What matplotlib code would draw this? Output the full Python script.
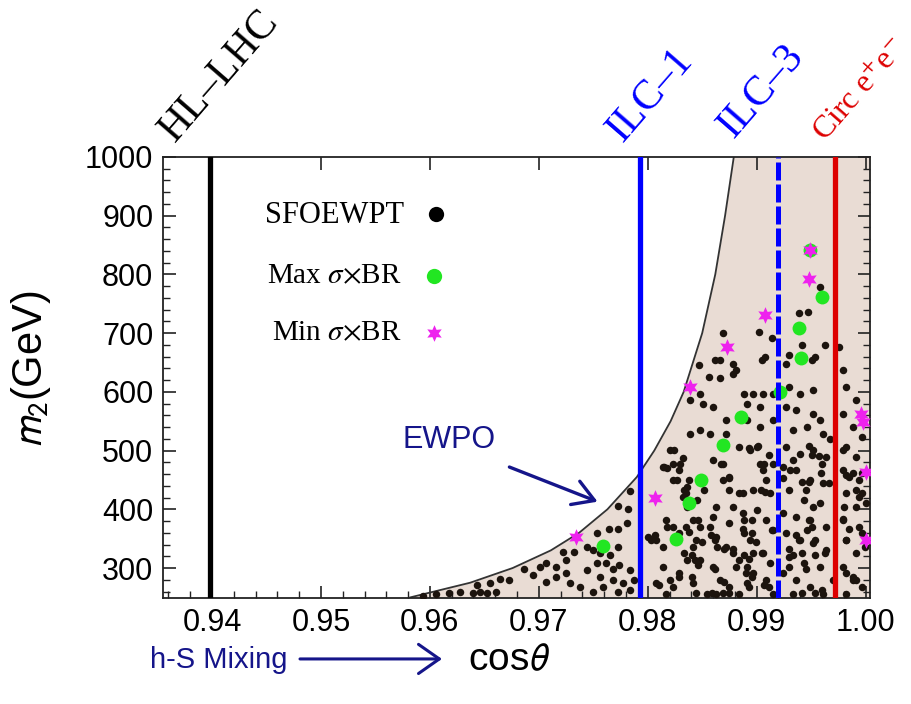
import matplotlib
matplotlib.use('Agg')
import matplotlib.pyplot as plt
import numpy as np

plt.rcParams['font.family'] = ['Liberation Sans', 'DejaVu Sans']
plt.rcParams['mathtext.fontset'] = 'stix'

# EWPO bound: allowed region lies right of this curve
curve_m2 = [250, 275, 300, 330, 360, 400, 455, 500, 550, 600, 700, 800, 900, 1000]
curve_cos = [0.9582, 0.9637, 0.9676, 0.9711, 0.9737, 0.9763, 0.9790,
             0.9806, 0.9821, 0.9833, 0.9850, 0.9862, 0.9871, 0.9879]

# SFOEWPT scan points
sfo_cos = [
    # left of ILC-1
    0.9784, 0.9773, 0.9782, 0.9781, 0.9773, 0.9764, 0.9753, 0.9773, 0.9765, 0.9756,
    0.9750, 0.9744, 0.9732, 0.9722, 0.9725, 0.9716, 0.9707, 0.9701, 0.9695, 0.9686,
    0.9664, 0.9673, 0.9655, 0.9643, 0.9646, 0.9652, 0.9661, 0.9640, 0.9628, 0.9618,
    0.9606, 0.9594, 0.9707, 0.9716, 0.9729, 0.9738, 0.9725, 0.9744, 0.9753, 0.9762,
    0.9768, 0.9774, 0.9784, 0.9756, 0.9768, 0.9777, 0.9759, 0.9750, 0.9784, 0.9773, 0.9787,
    # lower right
    0.9824, 0.9832, 0.9830, 0.9815, 0.9818, 0.9827, 0.9838, 0.9852, 0.9833, 0.9835,
    0.9867, 0.9875, 0.9875, 0.9887, 0.9893, 0.9901, 0.9911, 0.9907, 0.9904, 0.9908,
    0.9933, 0.9931, 0.9942, 0.9948, 0.9945, 0.9948, 0.9951, 0.9957, 0.9960, 0.9959,
    0.9966, 0.9979, 0.9982, 0.9985, 0.9994, 1.0000, 0.9980, 0.9800, 0.9803, 0.9807,
    0.9818, 0.9835, 0.9838, 0.9846, 0.9844, 0.9850, 0.9858, 0.9862, 0.9864, 0.9870,
    0.9878, 0.9887, 0.9896, 0.9887, 0.9896, 0.9899, 0.9905, 0.9888, 0.9893, 0.9881,
    0.9890, 0.9896, 0.9833, 0.9841, 0.9843, 0.9846, 0.9862, 0.9841, 0.9829, 0.9810,
    0.9870, 0.9844, 0.9859, 0.9869, 0.9875, 0.9914, 0.9930, 0.9936, 0.9939, 0.9942,
    0.9933, 0.9930, 0.9945, 0.9954, 0.9963, 0.9948, 0.9951, 0.9954, 0.9979, 0.9985,
    0.9997, 0.9999, 0.9982, 0.9988, 0.9991, 0.9924, 0.9907, 0.9911, 0.9893, 0.9982,
    0.9970, 0.9960, 0.9942, 0.9954, 0.9991, 0.9997,
    # lower right, second pass (ILC-1 to ILC-3)
    0.9808, 0.9814, 0.9808, 0.9817, 0.9823, 0.9829, 0.9836, 0.9832, 0.9836, 0.9845,
    0.9842, 0.9848, 0.9857, 0.9863, 0.9875, 0.9888, 0.9869, 0.9875, 0.9884, 0.9897,
    0.9860, 0.9869, 0.9884, 0.9894, 0.9900, 0.9820, 0.9823, 0.9814, 0.9848, 0.9860,
    0.9872, 0.9878, 0.9884, 0.9891, 0.9866, 0.9875, 0.9891, 0.9897, 0.9906, 0.9912,
    0.9909, 0.9915, 0.9842, 0.9836, 0.9829, 0.9823, 0.9842, 0.9854, 0.9863, 0.9884,
    0.9814, 0.9820, 0.9909, 0.9912, 0.9915, 0.9903, 0.9906, 0.9863, 0.9878, 0.9900,
    0.9909, 0.9915, 0.9888, 0.9860, 0.9894, 0.9897, 0.9817, 0.9823, 0.9829,
    # lower right, second pass (right of ILC-3)
    0.9927, 0.9940, 0.9952, 0.9964, 0.9924, 0.9936, 0.9949, 0.9961, 0.9930, 0.9943,
    0.9958, 0.9924, 0.9936, 0.9949, 0.9964, 0.9927, 0.9940, 0.9952, 0.9964, 0.9930,
    0.9943, 0.9958, 0.9924, 0.9936, 0.9949, 0.9961, 0.9933, 0.9946, 0.9952,
    0.9982, 0.9991, 0.9979, 0.9994, 0.9982, 0.9991, 0.9979, 0.9994, 0.9982, 0.9991,
    0.9979, 0.9988, 0.9997, 0.9982, 0.9997, 0.9988,
    # middle right
    0.9839, 0.9848, 0.9857, 0.9872, 0.9903, 0.9906, 0.9915, 0.9897, 0.9888, 0.9891,
    0.9903, 0.9872, 0.9860, 0.9848, 0.9851, 0.9839, 0.9915, 0.9891, 0.9930, 0.9940,
    0.9952, 0.9927, 0.9936, 0.9952, 0.9958, 0.9933, 0.9946, 0.9961, 0.9967, 0.9982,
    0.9991, 0.9979, 0.9988, 0.9997,
    # upper right
    0.9869, 0.9902, 0.9914, 0.9939, 0.9947, 0.9942, 0.9954, 0.9951, 0.9963, 0.9976,
    0.9847, 0.9862, 0.9866, 0.9878, 0.9881, 0.9856, 0.9866, 0.9878, 0.9905, 0.9908,
    0.9927, 0.9930, 0.9979, 0.9958,
]
sfo_m2 = [
    432, 405, 400, 377, 367, 367, 359, 335, 322, 325,
    331, 336, 328, 328, 313, 302, 308, 302, 288, 298,
    282, 279, 274, 271, 260, 257, 260, 257, 260, 257,
    256, 252, 277, 285, 274, 268, 291, 296, 308, 308,
    299, 305, 296, 285, 279, 274, 268, 260, 262, 260, 279,
    501, 487, 478, 472, 470, 450, 450, 433, 433, 427,
    478, 453, 433, 427, 504, 507, 492, 478, 433, 430,
    484, 467, 447, 447, 433, 507, 492, 490, 478, 461,
    444, 501, 458, 455, 421, 410, 404, 353, 348, 356,
    370, 370, 362, 382, 348, 345, 356, 348, 336, 333,
    333, 393, 382, 367, 359, 345, 325, 322, 316, 302,
    291, 285, 325, 322, 313, 305, 299, 285, 285, 271,
    277, 257, 257, 257, 257, 364, 333, 356, 348, 325,
    322, 302, 299, 322, 325, 382, 370, 348, 384, 367,
    359, 336, 291, 285, 279, 453, 271, 268, 268, 348,
    279, 262, 257, 257, 433, 461,
    347, 336, 274, 256, 450, 467, 438, 421, 404, 416,
    381, 370, 370, 353, 376, 381, 450, 455, 427, 433,
    484, 478, 506, 501, 506, 501, 478, 472, 313, 302,
    336, 325, 313, 302, 279, 268, 274, 291, 325, 308,
    279, 256, 336, 313, 291, 268, 274, 256, 256, 256,
    302, 279, 450, 427, 478, 478, 467, 404, 404, 398,
    381, 364, 359, 387, 347, 325, 381, 370, 359,
    506, 495, 501, 489, 472, 467, 450, 444, 433, 416,
    410, 393, 387, 381, 370, 359, 347, 342, 330, 319,
    308, 302, 291, 279, 268, 256, 256, 364, 404,
    506, 489, 467, 450, 427, 404, 381, 370, 347, 325,
    302, 279, 268, 256, 427, 461,
    529, 535, 529, 529, 540, 597, 597, 597, 597, 580,
    575, 552, 575, 597, 580, 586, 552, 552, 609, 597,
    603, 575, 569, 563, 552, 535, 540, 529, 520, 609,
    586, 563, 540, 523,
    700, 702, 691, 734, 736, 680, 660, 654, 680, 677,
    646, 654, 655, 648, 637, 626, 623, 631, 654, 660,
    648, 663, 637, 779,
]

# benchmark points
max_cos = [0.9759, 0.9826, 0.9838, 0.9849, 0.9869, 0.9886, 0.9921, 0.9941, 0.9939, 0.9960, 0.9949]
max_m2 = [337, 349, 410, 450, 510, 558, 600, 657, 708, 762, 842]
min_cos = [0.9734, 0.9807, 0.9839, 0.9873, 0.9908, 0.9948, 0.9949, 0.9996, 0.9998, 1.0000, 1.0000]
min_m2 = [353, 419, 609, 677, 731, 792, 842, 563, 549, 464, 348]

# projected sensitivities
lines_cos = [0.9398, 0.9793, 0.9920, 0.9972]
lines_lab = ['HL\u2013LHC', 'ILC\u20131', 'ILC\u20133', r'Circ e$^{+}$e$^{-}$']
lines_col = ['black', '#0000ff', '#0000ff', '#dd0000']

x_ticks = [0.94, 0.95, 0.96, 0.97, 0.98, 0.99, 1.00]
x_labels = ['0.94', '0.95', '0.96', '0.97', '0.98', '0.99', '1.00']
y_ticks = [300, 400, 500, 600, 700, 800, 900, 1000]

navy = '#15158a'

fig = plt.figure(figsize=(9.12, 7.04), dpi=100)
ax = fig.add_axes([0.1787, 0.1506, 0.7752, 0.6264])

ax.fill_betweenx(curve_m2, curve_cos, 1.02, color='#e9dcd4', lw=0, zorder=1)
ax.plot(curve_cos, curve_m2, color='#333333', lw=1.3, zorder=2)

ax.plot(sfo_cos, sfo_m2, 'o', color='#1c140e', ms=5.4, mec='none', zorder=3)
ax.plot(max_cos, max_m2, 'o', color='#22e622', ms=10, mec='none', zorder=4)
ax.plot(min_cos, min_m2, ls='none', marker=(6, 1, 0), color='#ee22ee', ms=12, mec='none', zorder=5)

label_pos = [(0.9366, 1024), (0.9777, 1024), (0.9879, 1030), (0.9963, 1025)]
label_size = [30, 30, 30, 23]
for i in range(len(lines_cos)):
    if i == 2:
        ax.axvline(lines_cos[i], color=lines_col[i], lw=3.6, dashes=[3.6, 0.8], zorder=6)
    else:
        ax.axvline(lines_cos[i], color=lines_col[i], lw=3.8, zorder=6)
    ax.text(label_pos[i][0], label_pos[i][1], lines_lab[i], color=lines_col[i],
            rotation=49, rotation_mode='anchor', ha='left', va='baseline',
            fontsize=label_size[i], family='Liberation Serif', clip_on=False)

# hand made legend
leg_font = dict(family='Liberation Serif', ha='right', va='center')
ax.text(0.9576, 901, 'SFOEWPT', fontsize=22, **leg_font)
ax.text(0.9574, 797, r'Max $\sigma$$\times$BR', fontsize=21, **leg_font)
ax.text(0.9574, 700, r'Min $\sigma$$\times$BR', fontsize=21, **leg_font)
ax.plot([0.9606], [903], 'o', color='black', ms=11, mec='none')
ax.plot([0.9604], [797], 'o', color='#22e622', ms=11, mec='none')
ax.plot([0.9604], [700], ls='none', marker=(6, 1, 0), color='#ee22ee', ms=12, mec='none')

ax.text(0.9618, 518, 'EWPO', color=navy, fontsize=22, ha='center', va='center')
ax.annotate('', xy=(0.9754, 413), xytext=(0.9673, 472),
            arrowprops=dict(arrowstyle='->,head_length=0.5,head_width=0.3', color=navy, lw=2.4,
                            mutation_scale=30, shrinkA=0, shrinkB=0))

ax.set_xlim(0.9355, 1.0004)
ax.set_ylim(249, 1000)
ax.set_xticks(x_ticks, x_labels)
ax.set_xticks(np.arange(0.936, 1.0005, 0.002), minor=True)
ax.set_yticks(y_ticks)
ax.set_yticks(np.arange(260, 1001, 20), minor=True)
ax.tick_params(which='both', direction='in', top=True, right=True, labelsize=22, color='#222222')
ax.tick_params(which='major', length=9, width=1.2, pad=7)
ax.tick_params(which='minor', length=5, width=1.0, top=False)
for s in ax.spines.values():
    s.set_linewidth(1.3)
    s.set_color('#222222')

fig.text(0.034, 0.476, r'$m_2$(GeV)', rotation=90, ha='center', va='center',
         fontsize=30, math_fontfamily='stixsans')
fig.text(150 / 912, 0.062, 'h-S Mixing', color=navy, fontsize=21, ha='left', va='center')
ax.annotate('', xy=(442 / 912, 0.064), xytext=(300 / 912, 0.064),
            xycoords='figure fraction', textcoords='figure fraction',
            arrowprops=dict(arrowstyle='->,head_length=0.5,head_width=0.35', color=navy, lw=2.2,
                            mutation_scale=30, shrinkA=0, shrinkB=0))
fig.text(468 / 912, 0.062, r'cos$\theta$', fontsize=28, ha='left', va='center',
         math_fontfamily='stixsans')

fig.savefig('out.png', dpi=100)
